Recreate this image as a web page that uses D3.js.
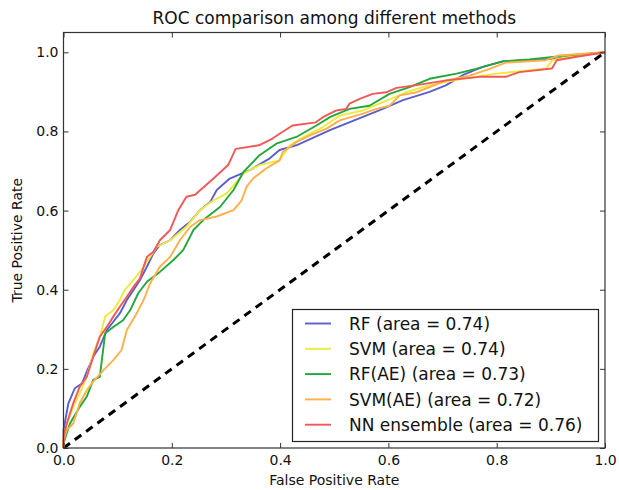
<!DOCTYPE html>
<html><head><meta charset="utf-8">
<script src="https://cdn.jsdelivr.net/npm/d3@7"></script>
<style>body{margin:0;background:#fff}svg{display:block}text{font-family:"DejaVu Sans",sans-serif;fill:#111}</style>
</head><body><svg id="c" width="619" height="490"></svg>
<script>
const seriesNames = ["RF (area = 0.74)","SVM (area = 0.74)","RF(AE) (area = 0.73)","SVM(AE) (area = 0.72)","NN ensemble (area = 0.76)"];
const seriesColors = ["#5a5fcc","#eeea3c","#20a838","#ffb048","#f25858"];
const rfPts = [[0,0],[0,0.045],[0.009,0.113],[0.021,0.151],[0.034,0.163],[0.043,0.193],[0.055,0.231],[0.067,0.256],[0.080,0.298],[0.092,0.319],[0.104,0.340],[0.117,0.374],[0.129,0.399],[0.141,0.424],[0.154,0.458],[0.166,0.492],[0.178,0.513],[0.197,0.525],[0.215,0.551],[0.234,0.572],[0.252,0.601],[0.271,0.622],[0.283,0.652],[0.307,0.681],[0.344,0.702],[0.381,0.732],[0.399,0.753],[0.430,0.765],[0.492,0.803],[0.553,0.837],[0.584,0.854],[0.627,0.879],[0.676,0.900],[0.707,0.917],[0.737,0.942],[0.774,0.963],[0.811,0.977],[0.860,0.980],[0.909,0.984],[0.952,0.992],[1,1]];
const svmPts = [[0,0],[0,0.029],[0.009,0.071],[0.018,0.104],[0.030,0.138],[0.043,0.180],[0.055,0.239],[0.067,0.281],[0.077,0.332],[0.092,0.348],[0.104,0.374],[0.113,0.399],[0.129,0.424],[0.148,0.458],[0.160,0.483],[0.172,0.508],[0.197,0.525],[0.227,0.559],[0.252,0.601],[0.277,0.626],[0.301,0.643],[0.332,0.693],[0.362,0.715],[0.399,0.727],[0.418,0.765],[0.449,0.790],[0.479,0.811],[0.510,0.840],[0.553,0.853],[0.590,0.874],[0.633,0.899],[0.676,0.917],[0.737,0.933],[0.799,0.946],[0.891,0.959],[0.903,0.980],[0.945,0.992],[1,1]];
const rfaePts = [[0,0],[0,0.012],[0.012,0.062],[0.030,0.104],[0.043,0.130],[0.055,0.172],[0.067,0.180],[0.077,0.290],[0.092,0.306],[0.110,0.323],[0.123,0.348],[0.138,0.391],[0.154,0.420],[0.178,0.445],[0.203,0.475],[0.221,0.500],[0.240,0.551],[0.258,0.576],[0.289,0.609],[0.314,0.652],[0.332,0.697],[0.362,0.740],[0.393,0.769],[0.430,0.786],[0.467,0.815],[0.492,0.836],[0.528,0.857],[0.565,0.865],[0.602,0.895],[0.639,0.912],[0.676,0.933],[0.726,0.946],[0.762,0.958],[0.811,0.977],[0.860,0.982],[0.922,0.991],[1,1]];
const svmaePts = [[0,0],[0,0.020],[0.006,0.045],[0.018,0.062],[0.030,0.113],[0.043,0.146],[0.055,0.168],[0.074,0.197],[0.092,0.222],[0.107,0.247],[0.117,0.298],[0.135,0.340],[0.148,0.374],[0.160,0.416],[0.178,0.458],[0.197,0.483],[0.215,0.525],[0.234,0.559],[0.252,0.576],[0.283,0.585],[0.314,0.601],[0.329,0.626],[0.338,0.660],[0.350,0.681],[0.375,0.707],[0.399,0.727],[0.405,0.748],[0.430,0.773],[0.455,0.790],[0.486,0.807],[0.510,0.828],[0.553,0.845],[0.578,0.857],[0.602,0.865],[0.621,0.891],[0.652,0.899],[0.707,0.929],[0.750,0.941],[0.787,0.958],[0.817,0.974],[0.891,0.980],[0.915,0.992],[1,1]];
const nnPts = [[0,0],[0,0.029],[0.006,0.062],[0.018,0.113],[0.030,0.155],[0.043,0.180],[0.055,0.231],[0.067,0.281],[0.080,0.306],[0.092,0.332],[0.104,0.357],[0.117,0.382],[0.129,0.407],[0.141,0.428],[0.154,0.483],[0.166,0.496],[0.178,0.525],[0.197,0.551],[0.212,0.601],[0.227,0.635],[0.243,0.640],[0.280,0.685],[0.304,0.715],[0.318,0.756],[0.361,0.765],[0.386,0.782],[0.399,0.794],[0.423,0.815],[0.466,0.823],[0.479,0.836],[0.504,0.853],[0.522,0.857],[0.528,0.870],[0.547,0.882],[0.571,0.895],[0.596,0.899],[0.615,0.910],[0.652,0.917],[0.707,0.929],[0.768,0.938],[0.817,0.938],[0.842,0.950],[0.902,0.959],[0.911,0.980],[0.945,0.988],[1,1]];
const xTicks = [0,0.2,0.4,0.6,0.8,1.0];
const yTicks = [0,0.2,0.4,0.6,0.8,1.0];
const chartTitle = "ROC comparison among different methods";
const xTitle = "False Positive Rate";
const yTitle = "True Positive Rate";

const allSeries = [rfPts, svmPts, rfaePts, svmaePts, nnPts];
const svg = d3.select("#c");
const L=63.5, R=605, T=32.5, B=448;
const x = d3.scaleLinear().domain([0,1]).range([L,R]);
const y = d3.scaleLinear().domain([0,1.05]).range([B,T]);

const line = d3.line().x(d=>x(d[0])).y(d=>y(d[1]));
svg.append("path").datum([[0,0],[1,1]]).attr("d",line).attr("fill","none")
  .attr("stroke","#000").attr("stroke-width",3).attr("stroke-dasharray","8,6");
allSeries.forEach((s,i)=>{
  svg.append("path").datum(s).attr("d",line).attr("fill","none")
    .attr("stroke",seriesColors[i]).attr("stroke-width",1.9).attr("stroke-linejoin","round");
});

const fmt = d3.format(".1f");
const tickFont = 14;
svg.append("g").attr("transform",`translate(0,${B})`)
  .call(d3.axisBottom(x).tickValues(xTicks).tickFormat(fmt).tickSizeInner(-5).tickSizeOuter(0).tickPadding(7))
  .call(g=>{g.select(".domain").remove();g.selectAll("text").attr("font-size",tickFont).attr("font-family","DejaVu Sans").attr("fill","#111");g.selectAll("line").attr("stroke","#333");});
svg.append("g").attr("transform",`translate(0,${T})`)
  .call(d3.axisTop(x).tickValues(xTicks).tickFormat("").tickSizeInner(-5).tickSizeOuter(0))
  .call(g=>{g.select(".domain").remove();g.selectAll("line").attr("stroke","#333");});
svg.append("g").attr("transform",`translate(${L},0)`)
  .call(d3.axisLeft(y).tickValues(yTicks).tickFormat(fmt).tickSizeInner(-5).tickSizeOuter(0).tickPadding(5))
  .call(g=>{g.select(".domain").remove();g.selectAll("text").attr("font-size",tickFont).attr("font-family","DejaVu Sans").attr("fill","#111");g.selectAll("line").attr("stroke","#333");});
svg.append("g").attr("transform",`translate(${R},0)`)
  .call(d3.axisRight(y).tickValues(yTicks).tickFormat("").tickSizeInner(-5).tickSizeOuter(0))
  .call(g=>{g.select(".domain").remove();g.selectAll("line").attr("stroke","#333");});
svg.append("rect").attr("x",L).attr("y",T).attr("width",R-L).attr("height",B-T)
  .attr("fill","none").attr("stroke","#333").attr("stroke-width",1.2);

svg.append("text").attr("x",(L+R)/2).attr("y",24).attr("text-anchor","middle").attr("font-size",17).text(chartTitle);
svg.append("text").attr("x",(L+R)/2).attr("y",485).attr("text-anchor","middle").attr("font-size",14).text(xTitle);
svg.append("text").attr("transform",`translate(22,${(T+B)/2}) rotate(-90)`).attr("text-anchor","middle").attr("font-size",14).text(yTitle);

const lg = svg.append("g");
lg.append("rect").attr("x",292.5).attr("y",309.5).attr("width",306).attr("height",132)
  .attr("fill","#fff").attr("stroke","#222").attr("stroke-width",1.2);
seriesNames.forEach((n,i)=>{
  const yy = 323.5 + i*25.3;
  lg.append("line").attr("x1",305).attr("x2",331).attr("y1",yy).attr("y2",yy).attr("stroke",seriesColors[i]).attr("stroke-width",1.9);
  lg.append("text").attr("x",349).attr("y",yy).attr("dy","0.36em").attr("font-size",17).text(n);
});
</script></body></html>
